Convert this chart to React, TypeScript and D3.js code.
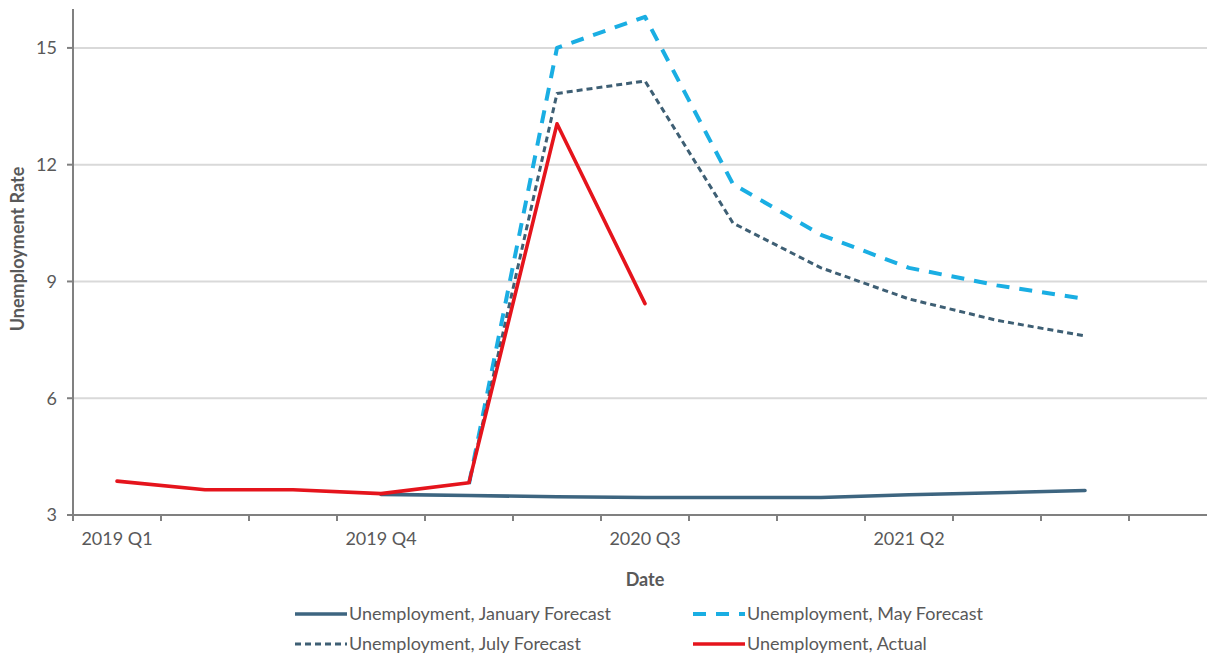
import React from 'react';
import * as d3 from 'd3';

// Quarterly categories on the x axis
const quarters = [
  '2019 Q1', '2019 Q2', '2019 Q3', '2019 Q4',
  '2020 Q1', '2020 Q2', '2020 Q3', '2020 Q4',
  '2021 Q1', '2021 Q2', '2021 Q3', '2021 Q4',
];
const labeledQuarters = ['2019 Q1', '2019 Q4', '2020 Q3', '2021 Q2'];
const yTicks = [3, 6, 9, 12, 15];

// Unemployment rate (%) per quarter; null where a series has no value
const januaryForecast = [null, null, null, 3.53, 3.5, 3.47, 3.45, 3.45, 3.45, 3.52, 3.57, 3.63];
const mayForecast = [null, null, null, null, 3.8, 15.0, 15.8, 11.5, 10.2, 9.35, 8.9, 8.55];
const julyForecast = [null, null, null, null, 3.8, 13.83, 14.15, 10.5, 9.35, 8.55, 8.0, 7.6];
const actual = [3.87, 3.65, 3.65, 3.55, 3.83, 13.05, 8.43, null, null, null, null, null];

type Series = {
  name: string;
  values: (number | null)[];
  color: string;
  width: number;
  dash?: string;
};

const series: Series[] = [
  { name: 'Unemployment, January Forecast', values: januaryForecast, color: '#3d6580', width: 3.6 },
  { name: 'Unemployment, May Forecast', values: mayForecast, color: '#1aaee3', width: 4, dash: '13 10' },
  { name: 'Unemployment, July Forecast', values: julyForecast, color: '#3e5f74', width: 3, dash: '6 4' },
  { name: 'Unemployment, Actual', values: actual, color: '#e5141c', width: 3.6 },
];

const W = 1207;
const H = 658;
const left = 73;
const plotRight = 1217; // axis runs one empty quarter past the last data point
const top = 9;
const bottom = 515;

const FONT = 'Lato, "Open Sans", sans-serif';
const TEXT = '#595959';
const AXIS = '#808080';
const GRID = '#d9d9d9';

export default function App() {
  const x = d3
    .scaleBand<string>()
    .domain(quarters)
    .range([left, left + ((plotRight - left) * quarters.length) / (quarters.length + 1)])
    .padding(0);
  const y = d3.scaleLinear().domain([3, 16]).range([bottom, top]);
  const cx = (q: string) => (x(q) as number) + x.bandwidth() / 2;

  const line = d3
    .line<number | null>()
    .defined((d) => d != null)
    .x((_, i) => cx(quarters[i]))
    .y((d) => y(d as number));

  const boundaries = d3.range(quarters.length + 1).map((i) => left + i * x.step());

  // legend layout: two columns, two rows
  const legendCols = [295, 693];
  const legendRows = [614, 644];
  const swatch = 52;

  return (
    <svg
      width={W}
      height={H}
      style={{ position: 'absolute', left: 0, top: 0, background: '#fff' }}
      fontFamily={FONT}
    >
      {/* horizontal gridlines */}
      {yTicks
        .filter((t) => t !== 3)
        .map((t) => (
          <line key={t} x1={left} x2={plotRight} y1={y(t)} y2={y(t)} stroke={GRID} strokeWidth={2} />
        ))}

      {/* y axis */}
      <line x1={left} x2={left} y1={top} y2={bottom} stroke={AXIS} strokeWidth={2} />
      {yTicks.map((t) => (
        <g key={t}>
          <line x1={left - 6} x2={left} y1={y(t)} y2={y(t)} stroke={AXIS} strokeWidth={2} />
          <text x={57} y={y(t)} dy="0.35em" textAnchor="end" fontSize={18} fill={TEXT}>
            {t}
          </text>
        </g>
      ))}

      {/* x axis */}
      <line x1={left - 6} x2={plotRight} y1={bottom} y2={bottom} stroke={AXIS} strokeWidth={2} />
      {boundaries.map((bx, i) => (
        <line key={i} x1={bx} x2={bx} y1={bottom} y2={bottom + 6} stroke={AXIS} strokeWidth={2} />
      ))}
      {labeledQuarters.map((q) => (
        <text key={q} x={cx(q)} y={545} textAnchor="middle" fontSize={18} fill={TEXT}>
          {q}
        </text>
      ))}

      {/* axis titles */}
      <text x={(left + plotRight) / 2} y={586} textAnchor="middle" fontSize={18} fontWeight="bold" fill={TEXT}>
        Date
      </text>
      <text
        transform={`translate(24, 249) rotate(-90)`}
        textAnchor="middle"
        fontSize={18}
        fontWeight="bold"
        fill={TEXT}
      >
        Unemployment Rate
      </text>

      {/* series lines */}
      {series.map((s) => (
        <path
          key={s.name}
          d={line(s.values) || ''}
          fill="none"
          stroke={s.color}
          strokeWidth={s.width}
          strokeDasharray={s.dash}
          strokeLinecap={s.dash ? 'butt' : 'round'}
          strokeLinejoin="round"
        />
      ))}

      {/* legend */}
      {series.map((s, i) => {
        const lx = legendCols[i % 2];
        const ly = legendRows[Math.floor(i / 2)];
        return (
          <g key={s.name}>
            <line
              x1={lx}
              x2={lx + swatch}
              y1={ly}
              y2={ly}
              stroke={s.color}
              strokeWidth={s.width}
              strokeDasharray={s.dash}
            />
            <text x={lx + swatch + 2} y={ly} dy="0.35em" fontSize={18} fill={TEXT}>
              {s.name}
            </text>
          </g>
        );
      })}
    </svg>
  );
}
